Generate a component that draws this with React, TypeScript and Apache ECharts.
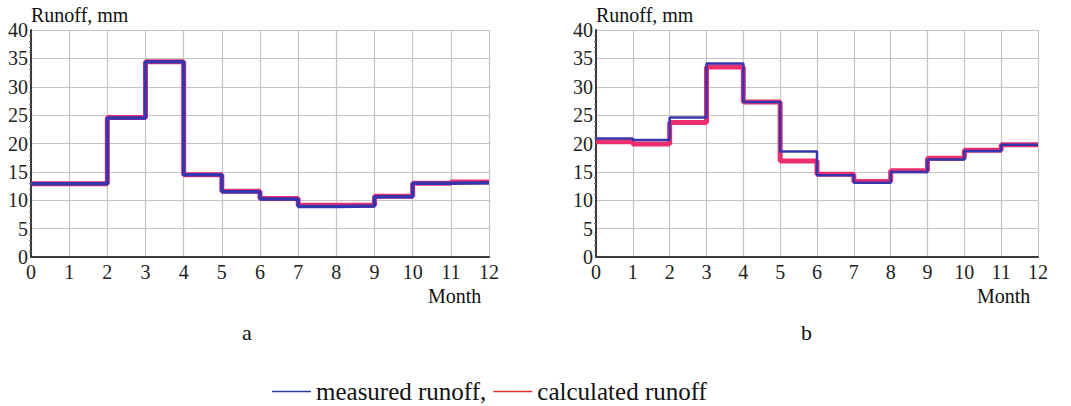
import React, { useEffect, useRef } from "react";
import * as echarts from "echarts";

// Month boundaries on the x axis and one runoff value per month interval
const months = [0, 1, 2, 3, 4, 5, 6, 7, 8, 9, 10, 11, 12];
const measuredA = [12.9, 12.9, 24.5, 34.4, 14.5, 11.5, 10.2, 8.9, 9.0, 10.6, 13.0, 13.1];
const calculatedA = [12.9, 12.9, 24.6, 34.4, 14.5, 11.6, 10.3, 9.1, 9.1, 10.7, 13.0, 13.2];
const measuredB = [20.9, 20.6, 24.6, 34.1, 27.3, 18.6, 14.4, 13.1, 15.0, 17.2, 18.7, 19.8];
const calculatedB = [20.3, 19.9, 23.7, 33.5, 27.3, 16.9, 14.6, 13.3, 15.2, 17.4, 18.8, 19.8];
const yTicks = [0, 5, 10, 15, 20, 25, 30, 35, 40];

const SERIF = "Liberation Serif";
const BLUE = "#3535b0";
const PINK = "#ec2f6c";

// Step series: each month value holds from its start to the next boundary
const stepPoints = (vals: number[]) =>
  months.map((m, i) => [m, vals[Math.min(i, vals.length - 1)]]);

const xAxisFor = (gridIndex: number) => ({
  type: "value",
  gridIndex,
  min: months[0],
  max: months[months.length - 1],
  interval: 1,
  axisLine: { show: true, lineStyle: { color: "#3a3a3a", width: 2 } },
  axisTick: { show: false },
  axisLabel: { color: "#222", fontFamily: SERIF, fontSize: 20, margin: 5 },
  splitLine: { show: true, lineStyle: { color: "#c4c4c4", width: 1.2 } },
});

const yAxisFor = (gridIndex: number) => ({
  type: "value",
  gridIndex,
  min: yTicks[0],
  max: yTicks[yTicks.length - 1],
  interval: 5,
  axisLine: { show: true, lineStyle: { color: "#3a3a3a", width: 2 } },
  axisTick: { show: false },
  minorTick: { show: true, splitNumber: 5, length: 2, lineStyle: { color: "#777" } },
  axisLabel: { color: "#222", fontFamily: SERIF, fontSize: 20, margin: 3 },
  splitLine: { show: true, lineStyle: { color: "#c4c4c4", width: 1.2 } },
});

const stepSeries = (name: string, vals: number[], idx: number, color: string, width: number) => ({
  name,
  type: "line",
  step: "end",
  xAxisIndex: idx,
  yAxisIndex: idx,
  data: stepPoints(vals),
  showSymbol: false,
  lineStyle: { color, width },
  itemStyle: { color },
});

const label = (text: string, left: number, top: number, size: number) => ({
  type: "text",
  left,
  top,
  style: { text, fill: "#111", fontFamily: SERIF, fontSize: size },
});

export default function App() {
  const ref = useRef<HTMLDivElement>(null);

  useEffect(() => {
    if (!ref.current) return;
    const chart = echarts.init(ref.current, null, { renderer: "svg" });
    chart.setOption({
      animation: false,
      backgroundColor: "#fff",
      grid: [
        { left: 31, top: 30, width: 458, height: 227 },
        { left: 596, top: 30, width: 442, height: 227 },
      ],
      xAxis: [xAxisFor(0), xAxisFor(1)],
      yAxis: [yAxisFor(0), yAxisFor(1)],
      legend: {
        left: 272,
        top: 379,
        padding: 0,
        icon: "rect",
        itemWidth: 39,
        itemHeight: 1.5,
        itemGap: 7,
        selectedMode: false,
        textStyle: { fontFamily: SERIF, fontSize: 25, lineHeight: 25, color: "#111" },
        formatter: (name: string) => (name === "measured runoff" ? name + "," : name),
        data: [
          { name: "measured runoff", itemStyle: { color: "#2b3d92" } },
          { name: "calculated runoff", itemStyle: { color: "#e0302e" } },
        ],
      },
      series: [
        stepSeries("calculated runoff", calculatedA, 0, PINK, 5),
        stepSeries("measured runoff", measuredA, 0, BLUE, 3.5),
        stepSeries("calculated runoff", calculatedB, 1, PINK, 5),
        stepSeries("measured runoff", measuredB, 1, BLUE, 2.5),
      ],
      graphic: [
        label("Runoff, mm", 31, 5, 20),
        label("Runoff, mm", 596, 5, 20),
        label("Month", 428, 286, 20),
        label("Month", 977, 286, 20),
        label("a", 242, 321, 22),
        label("b", 801, 321, 22),
      ],
    });
    return () => chart.dispose();
  }, []);

  return (
    <div
      ref={ref}
      style={{ position: "fixed", left: 0, top: 0, width: 1071, height: 406, background: "#fff" }}
    />
  );
}
